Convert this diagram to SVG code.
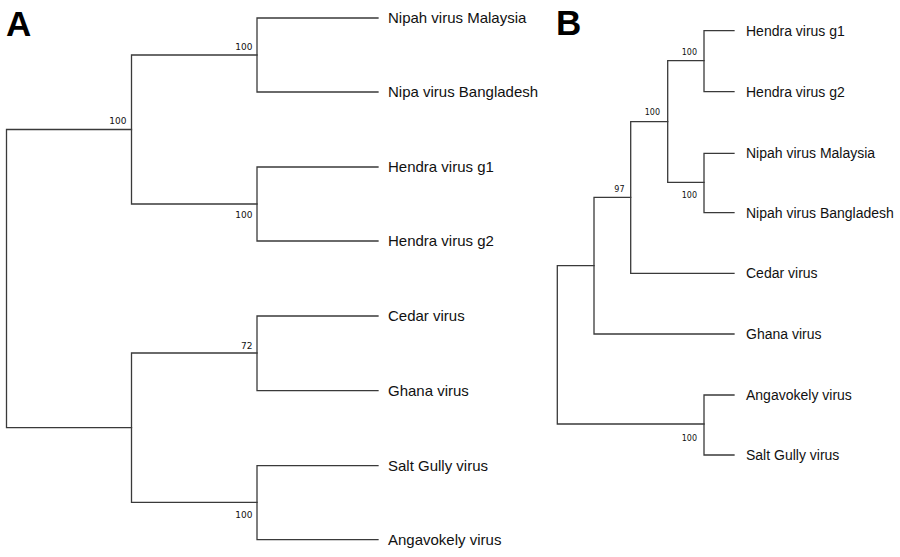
<svg xmlns="http://www.w3.org/2000/svg" width="900" height="557" viewBox="0 0 900 557">
<style>
.br{fill:none;stroke:#3a3a3a;stroke-width:1.3;stroke-linecap:square}
.la{font-family:"Liberation Sans",Arial,sans-serif;font-size:15px;fill:#111}
.lb{font-family:"Liberation Sans",Arial,sans-serif;font-size:14px;fill:#111}
.bs{font-family:"DejaVu Sans",Verdana,sans-serif;font-size:9px;fill:#111;text-anchor:end}
.bsb{font-family:"DejaVu Sans",Verdana,sans-serif;font-size:8px;fill:#111;text-anchor:end}
.pl{font-family:"Liberation Sans",Arial,sans-serif;font-size:35px;font-weight:bold;fill:#000}
</style>
<rect width="900" height="557" fill="#fff"/>
<text class="pl" x="6" y="36">A</text>
<text class="pl" x="556" y="34.5">B</text>
<g id="connectors">
<path class="br" d="M6.5,129.5V427.7 M6.5,129.5H131.5 M6.5,427.7H131.5"/>
<path class="br" d="M131.5,55V204 M131.5,55H257 M131.5,204H257"/>
<path class="br" d="M257,18V92 M257,18H378 M257,92H378"/>
<path class="br" d="M257,167V241 M257,167H378 M257,241H378"/>
<path class="br" d="M131.5,353V502.3 M131.5,353H257 M131.5,502.3H257"/>
<path class="br" d="M257,316V390.7 M257,316H378 M257,390.7H378"/>
<path class="br" d="M257,465.7V539.7 M257,465.7H378 M257,539.7H378"/>
<path class="br" d="M557.3,265.7V424 M557.3,265.7H594 M557.3,424H704"/>
<path class="br" d="M594,197.3V334 M594,197.3H630.7 M594,334H734"/>
<path class="br" d="M630.7,121.7V273.3 M630.7,121.7H667.7 M630.7,273.3H734"/>
<path class="br" d="M667.7,60.7V182.3 M667.7,60.7H704 M667.7,182.3H704"/>
<path class="br" d="M704,30.7V91.7 M704,30.7H734 M704,91.7H734"/>
<path class="br" d="M704,153.3V212.7 M704,153.3H734 M704,212.7H734"/>
<path class="br" d="M704,395V455 M704,395H734 M704,455H734"/>
</g>
<g id="boot">
<text class="bs" x="252.5" y="50">100</text>
<text class="bs" x="126.5" y="124">100</text>
<text class="bs" x="252.5" y="218">100</text>
<text class="bs" x="252.5" y="349">72</text>
<text class="bs" x="252.5" y="518">100</text>
<text class="bsb" x="697" y="55">100</text>
<text class="bsb" x="660" y="115">100</text>
<text class="bsb" x="624.5" y="192">97</text>
<text class="bsb" x="697" y="197.5">100</text>
<text class="bsb" x="697" y="441">100</text>
</g>
<g id="leaves-a">
<text class="la" x="388" y="23.3">Nipah virus Malaysia</text>
<text class="la" x="388" y="97.3">Nipa virus Bangladesh</text>
<text class="la" x="388" y="172.3">Hendra virus g1</text>
<text class="la" x="388" y="246.3">Hendra virus g2</text>
<text class="la" x="388" y="321.3">Cedar virus</text>
<text class="la" x="388" y="396">Ghana virus</text>
<text class="la" x="388" y="471">Salt Gully virus</text>
<text class="la" x="388" y="545">Angavokely virus</text>
</g>
<g id="leaves-b">
<text class="lb" x="746" y="35.7">Hendra virus g1</text>
<text class="lb" x="746" y="96.7">Hendra virus g2</text>
<text class="lb" x="746" y="158.3">Nipah virus Malaysia</text>
<text class="lb" x="746" y="217.7">Nipah virus Bangladesh</text>
<text class="lb" x="746" y="278.3">Cedar virus</text>
<text class="lb" x="746" y="339">Ghana virus</text>
<text class="lb" x="746" y="400">Angavokely virus</text>
<text class="lb" x="746" y="460">Salt Gully virus</text>
</g>
</svg>
